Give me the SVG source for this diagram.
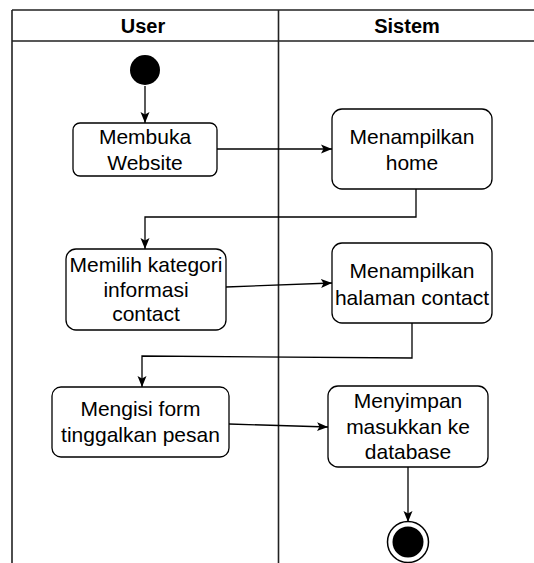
<svg xmlns="http://www.w3.org/2000/svg" width="534" height="563" viewBox="0 0 534 563">
<style>
.lane{stroke:#222;stroke-width:1.6;fill:none}
.box{fill:#fff;stroke:#000;stroke-width:1.3}
.t{font-family:"Liberation Sans",Arial,sans-serif;font-size:21px;fill:#000;text-anchor:middle}
.h{font-family:"Liberation Sans",Arial,sans-serif;font-size:20px;font-weight:bold;fill:#000;text-anchor:middle}
.c{stroke:#000;stroke-width:1.3;fill:none;marker-end:url(#arr)}
</style>
<defs>
<marker id="arr" markerUnits="userSpaceOnUse" markerWidth="12" markerHeight="10" refX="11" refY="5" orient="auto">
<path d="M0,0.5 L11,5 L0,9.5 L2.5,5 z" fill="#000"/>
</marker>
</defs>
<rect width="534" height="563" fill="#fff"/>
<g id="swimlanes">
<path class="lane" d="M12,10 H534 M12,41 H534 M12,10 V563 M278.5,10 V563"/>
<text class="h" x="143" y="33">User</text>
<text class="h" x="407" y="33">Sistem</text>
</g>
<g id="connectors">
<path class="c" d="M145,86 V123"/>
<path class="c" d="M217,149 H332"/>
<path class="c" d="M416,189 V217 H145 V249"/>
<path class="c" d="M226,287 L332,283"/>
<path class="c" d="M412,323 V358 L142,356 V387"/>
<path class="c" d="M229,424 L328,427"/>
<path class="c" d="M408,467 V522"/>
</g>
<g id="start"><circle cx="145" cy="70" r="15" fill="#000"/></g>
<g id="membuka">
<rect class="box" x="73" y="123" width="144" height="53" rx="7"/>
<text class="t" x="145" y="144">Membuka</text>
<text class="t" x="145" y="170">Website</text>
</g>
<g id="home">
<rect class="box" x="332" y="109" width="160" height="80" rx="10"/>
<text class="t" x="412" y="144">Menampilkan</text>
<text class="t" x="412" y="170">home</text>
</g>
<g id="memilih">
<rect class="box" x="66" y="249" width="160" height="81" rx="10"/>
<text class="t" x="146" y="272">Memilih kategori</text>
<text class="t" x="146" y="297">informasi</text>
<text class="t" x="146" y="321">contact</text>
</g>
<g id="halaman">
<rect class="box" x="332" y="243" width="160" height="80" rx="10"/>
<text class="t" x="412" y="278">Menampilkan</text>
<text class="t" x="412" y="305">halaman contact</text>
</g>
<g id="mengisi">
<rect class="box" x="52" y="387" width="177" height="70" rx="9"/>
<text class="t" x="140.5" y="416">Mengisi form</text>
<text class="t" x="140.5" y="442">tinggalkan pesan</text>
</g>
<g id="menyimpan">
<rect class="box" x="328" y="386" width="160" height="81" rx="10"/>
<text class="t" x="408" y="408">Menyimpan</text>
<text class="t" x="408" y="434">masukkan ke</text>
<text class="t" x="408" y="459">database</text>
</g>
<g id="end">
<circle cx="408" cy="542" r="20.5" fill="#fff" stroke="#000" stroke-width="1.5"/>
<circle cx="408" cy="542" r="15.5" fill="#000"/>
</g>
</svg>
